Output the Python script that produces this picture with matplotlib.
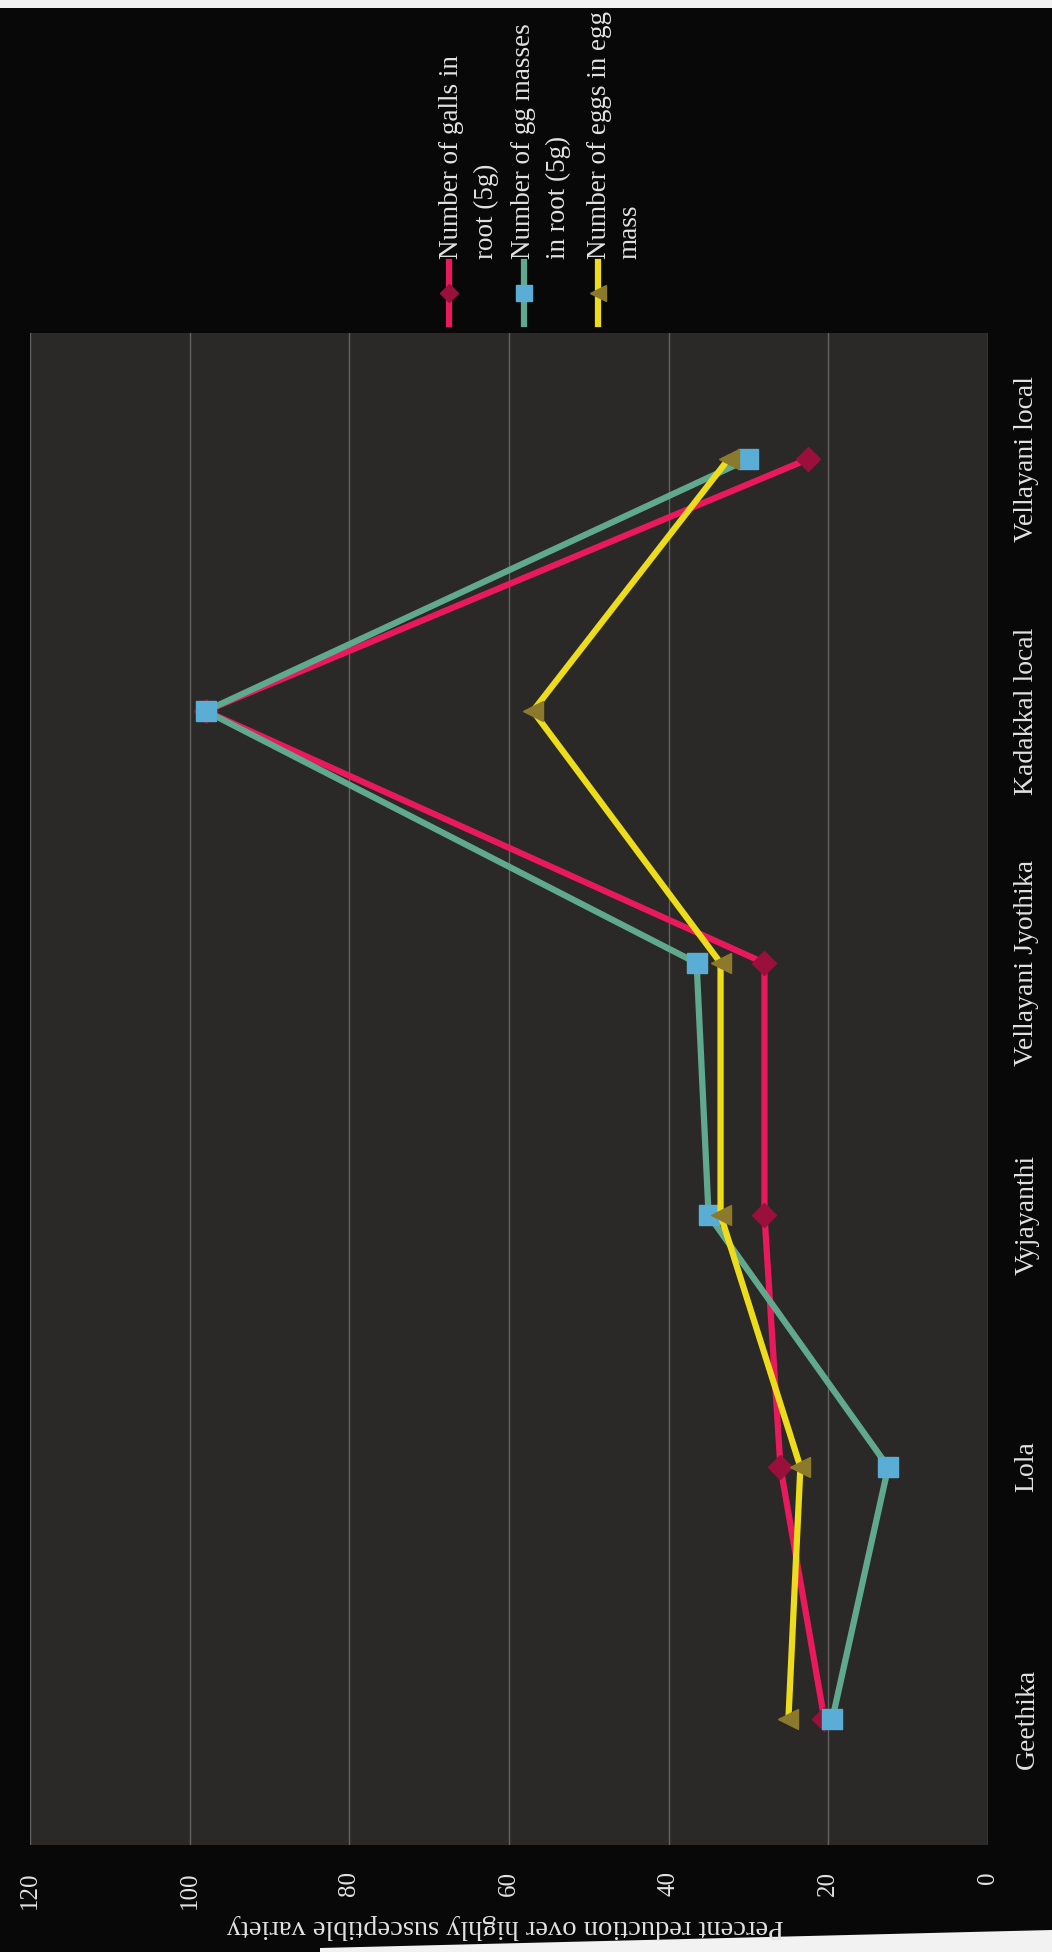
import matplotlib
matplotlib.use("Agg")
import matplotlib.pyplot as plt
from matplotlib.lines import Line2D
from matplotlib.patches import Polygon, Rectangle

# Varieties and percent reduction over the highly susceptible variety
varieties = ["Geethika", "Lola", "Vyjayanthi", "Vellayani Jyothika",
             "Kadakkal local", "Vellayani local"]
galls_in_root = [20.5, 26, 28, 28, 98, 22.5]
egg_masses_in_root = [19.5, 12.5, 35, 36.5, 98, 30]
eggs_in_egg_mass = [25, 23.5, 33.5, 33.5, 57, 32.5]

series_names = [["Number of galls in", "root (5g)"],
                ["Number of gg masses", "in root (5g)"],
                ["Number of eggs in egg", "mass"]]
value_ticks = [0, 20, 40, 60, 80, 100, 120]

W, H = 1052, 1952
SERIF = ["Liberation Serif", "DejaVu Serif"]
TXT = "#e2e2e2"

fig = plt.figure(figsize=(W / 100, H / 100), dpi=100, facecolor="#080808")


def fx(px):
    return px / W


def fy(py):
    return 1 - py / H


# chart is laid out turned a quarter turn: value axis runs right-to-left,
# categories run bottom-to-top
left, right, top, bottom = 30, 988, 333, 1845
ax = fig.add_axes([fx(left), fy(bottom), fx(right - left), fy(top) - fy(bottom)])
ax.set_facecolor("#2b2927")
for s in ax.spines.values():
    s.set_visible(False)

ypos = list(range(len(varieties)))
styles = [
    dict(data=galls_in_root, color="#e8195c", marker="D", mfc="#9a0f3c",
         mec="#9a0f3c", ms=12),
    dict(data=egg_masses_in_root, color="#60a98f", marker="s", mfc="#5aaed6",
         mec="#5aaed6", ms=15),
    dict(data=eggs_in_egg_mass, color="#ecdc1c", marker="<", mfc="#8c7a2c",
         mec="#8c7a2c", ms=15),
]
for st in styles:
    ax.plot(st["data"], ypos, color=st["color"], lw=4.5, marker=st["marker"],
            mfc=st["mfc"], mec=st["mec"], ms=st["ms"], zorder=3)

ax.set_xlim(120, 0)
ax.set_ylim(-0.5, len(varieties) - 0.5)
ax.set_xticks(value_ticks)
ax.set_xticklabels([str(v) for v in value_ticks], rotation=90, va="top",
                   ha="center", family=SERIF, fontsize=18, color=TXT)
ax.grid(axis="x", color="#636260", lw=1.0)
ax.grid(axis="y", visible=False)
ax.set_axisbelow(True)
ax.tick_params(axis="x", length=0, pad=19)

ax.yaxis.tick_right()
ax.set_yticks(ypos)
ax.set_yticklabels(varieties, rotation=90, va="center", ha="left",
                   family=SERIF, fontsize=20, color=TXT)
ax.tick_params(axis="y", length=0, pad=19)

fig.text(fx(505), fy(1926), "Percent reduction over highly susceptible variety",
         rotation=180, ha="center", va="center", family=SERIF, fontsize=20.5,
         color=TXT)

# legend, turned with the chart: keys sit below their text
key_x = [449, 524, 598]
text_x = [[452, 486], [524, 558], [600, 630]]
for st, kx, tx, names in zip(styles, key_x, text_x, series_names):
    fig.add_artist(Line2D([fx(kx), fx(kx)], [fy(324), fy(262)],
                          transform=fig.transFigure, color=st["color"], lw=4.5))
    fig.add_artist(Line2D([fx(kx)], [fy(293)], transform=fig.transFigure,
                          marker=st["marker"], mfc=st["mfc"], mec=st["mec"],
                          ms=st["ms"] * 0.75, lw=0))
    for x, name in zip(tx, names):
        fig.text(fx(x), fy(259), name, rotation=90, ha="center", va="bottom",
                 family=SERIF, fontsize=19.5, color=TXT)

# paper edges around the photographed page
fig.add_artist(Rectangle((0, fy(8)), 1, fy(0) - fy(8), transform=fig.transFigure,
                         facecolor="#f2f2f2", edgecolor="none"))
fig.add_artist(Polygon([(fx(320), 0), (1, 0), (1, fy(1930)), (fx(320), fy(1948))],
                       closed=True, transform=fig.transFigure,
                       facecolor="#f2f2f2", edgecolor="none"))

fig.savefig("out.png", dpi=100, facecolor=fig.get_facecolor())
